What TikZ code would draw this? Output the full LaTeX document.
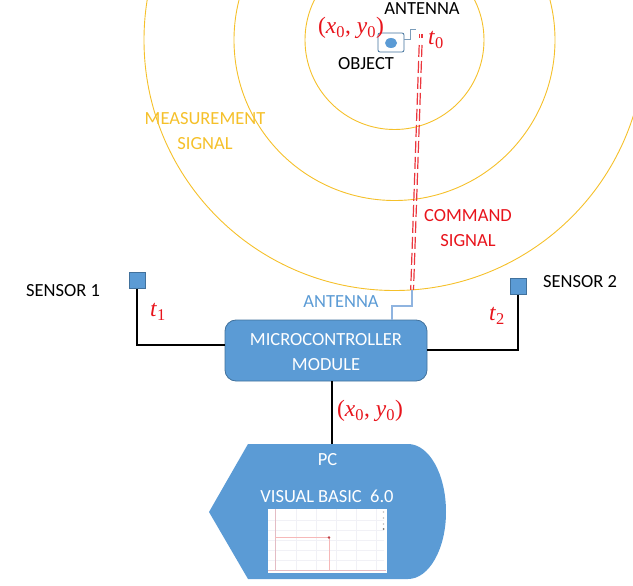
\documentclass[tikz,border=0pt]{standalone}
\usepackage{fontspec}
\usetikzlibrary{shapes.geometric}
\setmainfont{Carlito}
\newfontfamily\mathish{Liberation Serif}
\definecolor{boxblue}{HTML}{5B9BD5}
\definecolor{edgeblue}{HTML}{41719C}
\definecolor{sig}{HTML}{F5C02A}
\definecolor{ant}{HTML}{8FB4E0}
\definecolor{redtxt}{HTML}{E8141C}
\definecolor{plotline}{HTML}{F6B8B8}
\definecolor{axisline}{HTML}{E4BCC4}
\definecolor{gridc}{HTML}{F1F1F6}
\newcommand{\redmath}[1]{\textcolor{redtxt}{\fontsize{23.5}{23.5}\selectfont\mathish #1}}
\tikzset{
  every node/.style={font=\fontsize{18.5}{22}\selectfont},
  ring/.style={draw=sig,line width=0.9pt},
  wire/.style={draw=black,line width=1.5pt},
  antline/.style={draw=ant,line width=1.3pt},
  sensorbox/.style={draw=edgeblue,fill=boxblue,line width=0.8pt,minimum size=16pt,inner sep=0pt},
  label/.style={inner sep=0pt,align=center},
  twolines/.style={font=\fontsize{18.5}{25}\selectfont},
  yellowtxt/.style={label,text=sig,twolines},
  redtxtn/.style={label,text=redtxt},
  bluetxt/.style={label,text=boxblue},
  whitetxt/.style={label,text=white},
  cmdline/.style={draw=redtxt!85!white,line width=1.2pt,dash pattern=on 12pt off 4pt},
}
\begin{document}
\begin{tikzpicture}[x=1pt,y=-1pt]
\useasboundingbox (0,0) rectangle (633,586);
\begin{scope}
\clip (0,0) rectangle (633,586);
\coordinate (ctr) at (394.5,40);
\draw[ring] (ctr) circle[radius=89.5];
\draw[ring] (ctr) circle[radius=160.5];
\draw[ring] (ctr) circle[radius=250.5];
\end{scope}
% PC
\coordinate (pcL) at (209,512);
\path[fill=boxblue] (pcL) -- (248,444) -- (408,444)
  .. controls (429,444) and (446,474) .. (446,512)
  .. controls (446,549) and (429,579) .. (408,579) -- (248,579) -- cycle;
\node[inner sep=0pt,minimum width=119pt,minimum height=64pt,fill=white] (screen) at (327.5,541) {};
\begin{scope}
\foreach \x in {296,316,336,356,376}{\draw[gridc,line width=.6pt] (\x,509) -- (\x,570);}
\foreach \y in {520,530,540,550,560}{\draw[gridc,line width=.6pt] (268,\y) -- (384,\y);}
\draw[axisline,line width=1pt] (275,509) -- (275,571);
\draw[axisline,line width=1pt] (268,570) -- (386,570);
\draw[plotline,line width=1pt] (275,537.5) -- (329,537.5) -- (329,570);
\fill[redtxt!60!gray] (329,537.5) circle[radius=1.3];
\foreach \y in {512,518,524}{\fill[gray!50] (383.5,\y) circle[radius=.9];}
\fill[gray!90!black] (383.5,529) circle[radius=1];
\end{scope}
\node[whitetxt] (pclabel) at (327.5,460) {PC};
\node[whitetxt] (vb) at (327,496) {VISUAL BASIC\ \ 6.0};
% MCU
\node[draw=edgeblue,fill=boxblue,rounded corners=11pt,line width=.8pt,minimum width=202pt,minimum height=61pt,inner sep=0pt] (mcu) at (326,350.5) {};
\node[whitetxt,twolines] (mculabel) at (326,352.5) {MICROCONTROLLER\\MODULE};
% sensors
\node[sensorbox] (s1) at (137,280.5) {};
\node[sensorbox] (s2) at (518,286.5) {};
\coordinate (mcuL) at (225,345);
\coordinate (mcuR) at (427,350);
\coordinate (mcuB) at (332,381);
\coordinate (pcT) at (332,444);
\draw[wire] (s1.south) |- (mcuL);
\draw[wire] (s2.south) |- (mcuR);
\draw[wire] (mcuB) -- (pcT);
% object
\node[draw=edgeblue,fill=white,rounded corners=2pt,line width=.8pt,minimum width=26pt,minimum height=19pt,inner sep=0pt] (obj) at (391,42.5) {};
\node[draw=none,fill=boxblue,ellipse,minimum width=12pt,minimum height=10pt,inner sep=0pt] (objdot) at (391,43) {};
% antenna lines
\coordinate (ta) at (404,39.5);
\coordinate (tb) at (416,29.5);
\draw[edgeblue!70,line width=.7pt] (ta) -- (410,39.5) -- (410,29.5) -- (tb);
\coordinate (cmdB) at (412,290);
\coordinate (mant) at (392,320);
\draw[antline] (cmdB) -- (412,306) -- (392,306) -- (mant);
\draw[cmdline] (419.2,45) -- (410.7,290);
\draw[cmdline] (422,45) -- (413.5,290);
\draw[redtxt!85!white,line width=1.2pt] (419.5,34) -- (419.5,38) (422,34) -- (422,38);
% labels
\node[label] (anttop) at (422,9) {ANTENNA};
\node[label] (objl) at (366,64) {OBJECT};
\node[redtxtn] (xy1) at (351,28) {\redmath{(\textit{x}\textsubscript{0}, \textit{y}\textsubscript{0})}};
\node[redtxtn] (t0) at (436,40) {\redmath{\textit{t}\textsubscript{0}}};
\node[yellowtxt] (meas) at (205,131) {MEASUREMENT\\SIGNAL};
\node[redtxtn,twolines] (cmd) at (468,228.5) {COMMAND\\SIGNAL};
\node[bluetxt] (antb) at (341,302) {ANTENNA};
\node[label] (sl1) at (63,291) {SENSOR 1};
\node[label] (sl2) at (580,282) {SENSOR 2};
\node[redtxtn] (t1) at (158,312) {\redmath{\textit{t}\textsubscript{1}}};
\node[redtxtn] (t2) at (497,316) {\redmath{\textit{t}\textsubscript{2}}};
\node[redtxtn] (xy2) at (370,411) {\redmath{(\textit{x}\textsubscript{0}, \textit{y}\textsubscript{0})}};
\end{tikzpicture}
\end{document}
